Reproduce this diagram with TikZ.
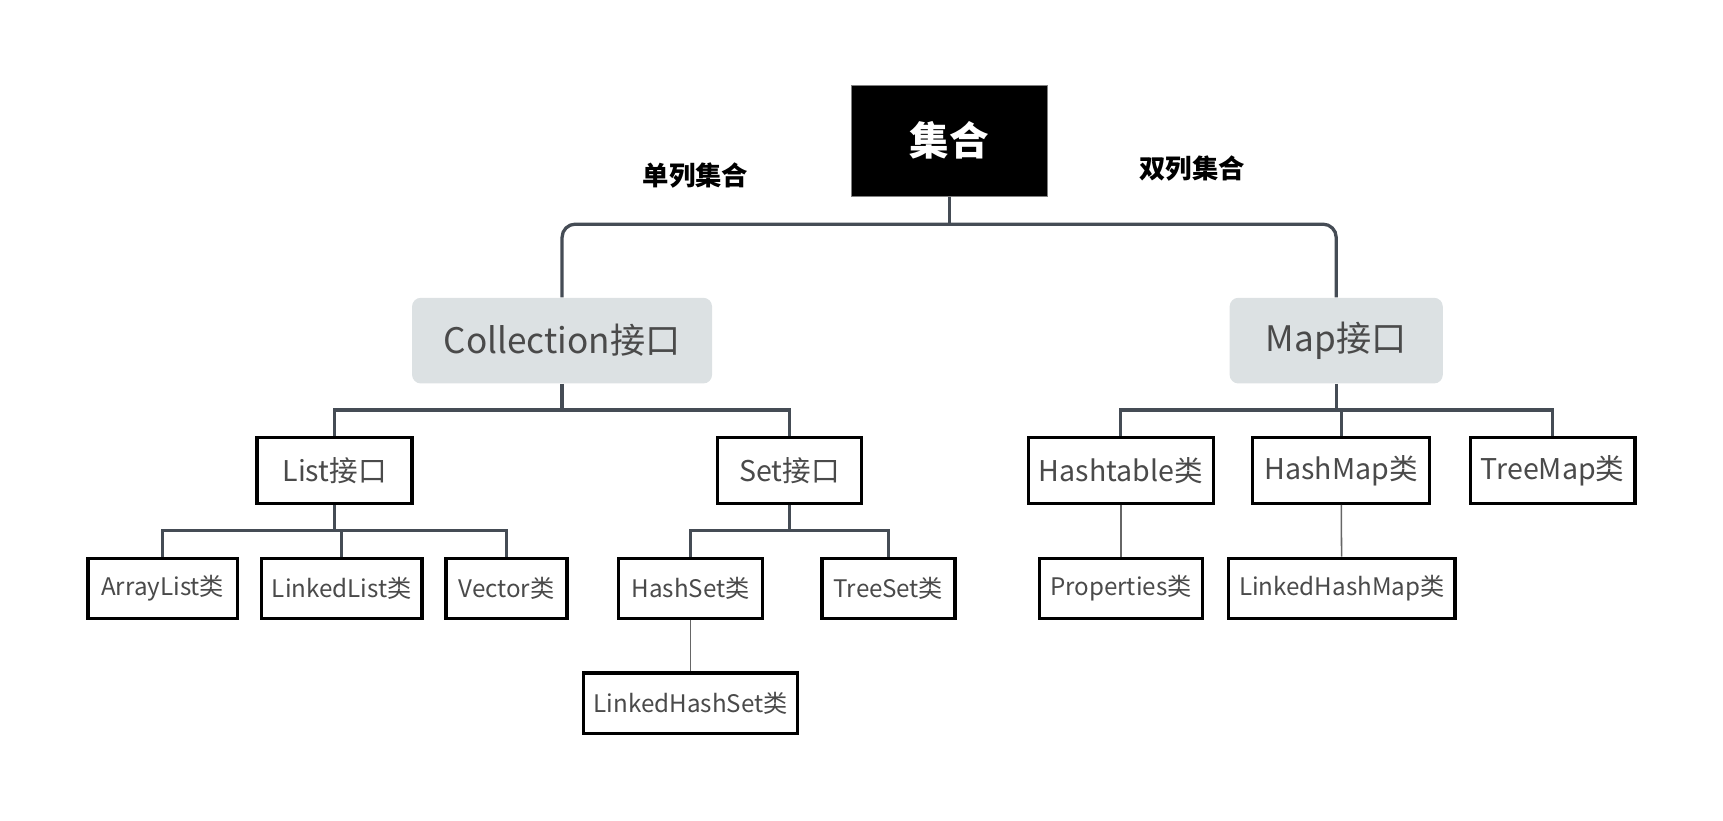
\documentclass[tikz,border=0pt]{standalone}
\usepackage{fontspec}
\setmainfont{Noto Sans CJK SC}
\begin{document}
\begin{tikzpicture}[x=0.5pt,y=-0.5pt,
 conn/.style={draw=lc,line width=1.5pt},
 thin/.style={draw=gray!80!black,line width=0.7pt},
 leaf/.style={draw=black,line width=1.5pt,fill=white,minimum height=27.5pt,inner sep=0pt,text=tc,font=\fontsize{11}{13}\selectfont},
 mid/.style={draw=black,line width=1.5pt,fill=white,minimum height=30pt,inner sep=0pt,text=tc,font=\fontsize{13}{15}\selectfont},
 iface/.style={fill=ifc,rounded corners=4pt,minimum height=39pt,inner sep=0pt,text=tc,font=\fontsize{16}{18}\selectfont}]
\definecolor{lc}{HTML}{454C55}
\definecolor{tc}{HTML}{4A4A4A}
\definecolor{ifc}{HTML}{DCE1E3}
\useasboundingbox (0,0) rectangle (1568,747);
\node[fill=black,draw=gray,minimum width=89pt,minimum height=50.5pt,text=white,font=\fontsize{18}{20}\selectfont\bfseries] (root) at (864,128) {集合};
\node[font=\fontsize{12}{14}\selectfont\bfseries] (l1) at (633,160) {单列集合};
\node[font=\fontsize{12}{14}\selectfont\bfseries] (l2) at (1085,153) {双列集合};
\node[iface,minimum width=136.5pt] (coll) at (511.5,310) {Collection接口};
\node[iface,minimum width=97pt] (map) at (1216,310) {Map接口};
\node[mid,minimum width=70.5pt] (list) at (304.5,428) {List接口};
\node[mid,minimum width=65.5pt] (set) at (718.5,428) {Set接口};
\node[mid,minimum width=84pt] (ht) at (1020,428) {Hashtable类};
\node[mid,minimum width=80.5pt] (hm) at (1220.5,428) {HashMap类};
\node[mid,minimum width=75pt] (tm) at (1413,428) {TreeMap类};
\node[leaf,minimum width=68pt] (al) at (148,535.5) {ArrayList类};
\node[leaf,minimum width=73pt] (ll) at (311,535.5) {LinkedList类};
\node[leaf,minimum width=55pt] (vec) at (461,535.5) {Vector类};
\node[leaf,minimum width=65.5pt] (hs) at (628.5,535.5) {HashSet类};
\node[leaf,minimum width=60.5pt] (ts) at (808.5,535.5) {TreeSet类};
\node[leaf,minimum width=97.5pt] (lhs) at (628.5,640) {LinkedHashSet类};
\node[leaf,minimum width=74pt] (prop) at (1020,535.5) {Properties类};
\node[leaf,minimum width=103pt] (lhm) at (1221,535.5) {LinkedHashMap类};
\begin{scope}[on background layer/.style={}]
\end{scope}
\draw[conn,rounded corners=6pt] (coll.north) |- (root.south |- 0,204) -| (map.north);
\draw[conn] (root.south) -- (864,204);
\draw[conn] (coll.south) -- (511.5,373);
\draw[conn] (list.north) |- (set.north |- 0,373) -- (set.north);
\draw[conn] (map.south) -- (1216,373);
\draw[conn] (ht.north) |- (tm.north |- 0,373) -- (tm.north);
\draw[conn] (hm.north) -- (1220.5,373);
\draw[conn] (list.south) -- (304.5,483);
\draw[conn] (al.north) |- (vec.north |- 0,483) -- (vec.north);
\draw[conn] (ll.north) -- (311,483);
\draw[conn] (set.south) -- (718.5,483);
\draw[conn] (hs.north) |- (ts.north |- 0,483) -- (ts.north);
\draw[thin] (hs) -- (lhs);
\draw[thin] (ht) -- (prop);
\draw[thin] (hm) -- (lhm);
\end{tikzpicture}
\end{document}
